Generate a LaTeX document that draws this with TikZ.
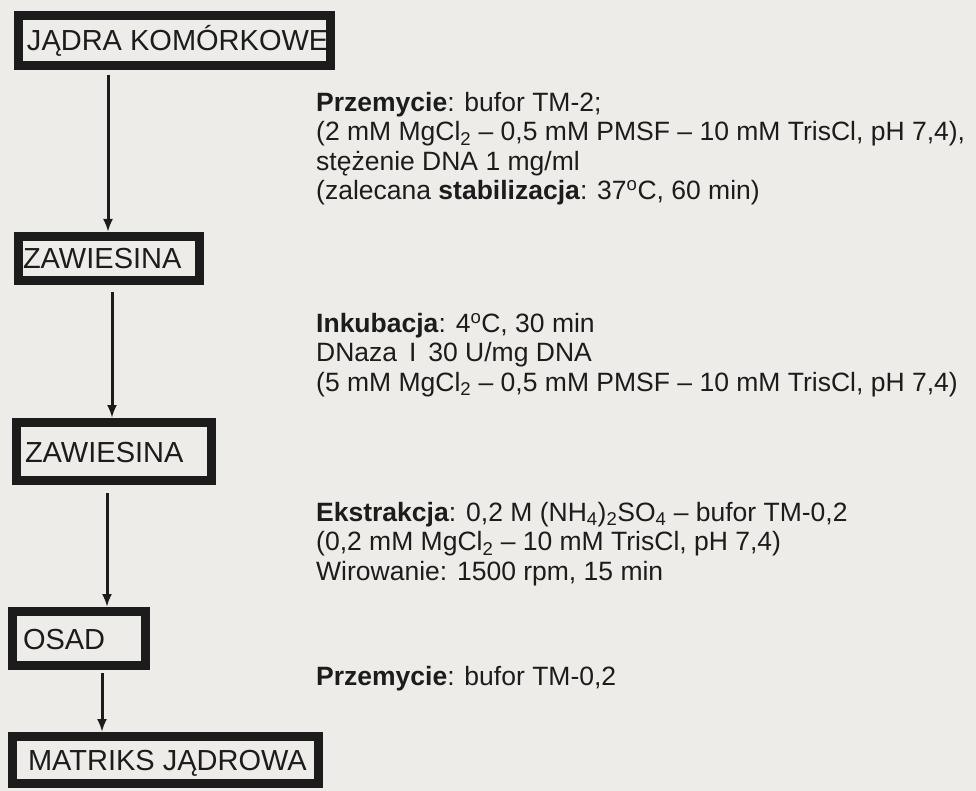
\documentclass[tikz,border=0pt]{standalone}
\usepackage{fontspec}
\setmainfont{Liberation Sans}
\usetikzlibrary{arrows.meta,calc}
\definecolor{paper}{RGB}{237,236,232}
\definecolor{ink}{RGB}{28,28,28}
\begin{document}
\begin{tikzpicture}[x=1pt,y=-1pt,
  stage/.style={draw=ink, line width=9pt, inner ysep=0pt, text height=21pt, text depth=0pt,
    font=\fontsize{29}{31}\selectfont, text=ink},
  arr/.style={draw=ink, line width=3pt, -{Latex[length=13pt,width=10pt]}},
  desc/.style={anchor=north west, align=left, inner sep=0pt, font=\fontsize{26.5}{29.5}\selectfont, text=ink}]
\fill[paper] (0,0) rectangle (976,791);
\useasboundingbox (0,0) rectangle (976,791);

% stages
\node[stage, minimum height=50pt, inner xsep=8.5pt] (b1) at (174.5,40.5) {\makebox[295pt][l]{JĄDRA KOMÓRKOWE}};
\node[stage, minimum height=44pt, inner xsep=4.5pt] (b2) at (109,258.5) {\makebox[172pt][l]{ZAWIESINA}};
\node[stage, minimum height=58pt, inner xsep=8.5pt] (b3) at (114,451.5) {\makebox[178pt][l]{ZAWIESINA}};
\node[stage, minimum height=54pt, inner xsep=10.5pt] (b4) at (79,638.5) {\makebox[112pt][l]{OSAD}};
\node[stage, minimum height=47pt, inner xsep=15.5pt] (b5) at (165.5,760) {\makebox[275pt][l]{MATRIKS JĄDROWA}};

% arrow columns
\coordinate (a1) at (108,0);
\coordinate (a2) at (112,0);
\coordinate (a3) at (107,0);
\coordinate (a4) at (102,0);
\draw[arr] ($(b1.south -| a1)+(0,5)$) -- (b2.north -| a1);
\draw[arr] ($(b2.south -| a2)+(0,7)$) -- (b3.north -| a2);
\draw[arr] ($(b3.south -| a3)+(0,8)$) -- (b4.north -| a3);
\draw[arr] ($(b4.south -| a4)+(0,3)$) -- (b5.north -| a4);

% descriptions
\node[desc] (t1) at (316,92) {\textbf{Przemycie}: bufor TM-2;\\
(2 mM MgCl\textsubscript{2} – 0,5 mM PMSF – 10 mM TrisCl, pH 7,4),\\
stężenie DNA 1 mg/ml\\
(zalecana \textbf{stabilizacja}: 37\textsuperscript{o}C, 60 min)};
\node[desc] (t2) at (316,313) {\textbf{Inkubacja}: 4\textsuperscript{o}C, 30 min\\
DNaza\hspace{0.45em}I\hspace{0.45em}30 U/mg DNA\\
(5 mM MgCl\textsubscript{2} – 0,5 mM PMSF – 10 mM TrisCl, pH 7,4)};
\node[desc] (t3) at (316,502) {\textbf{Ekstrakcja}: 0,2 M (NH\textsubscript{4})\textsubscript{2}SO\textsubscript{4} – bufor TM-0,2\\
(0,2 mM MgCl\textsubscript{2} – 10 mM TrisCl, pH 7,4)\\
Wirowanie: 1500 rpm, 15 min};
\node[desc] (t4) at (316,666) {\textbf{Przemycie}: bufor TM-0,2};
\end{tikzpicture}
\end{document}
